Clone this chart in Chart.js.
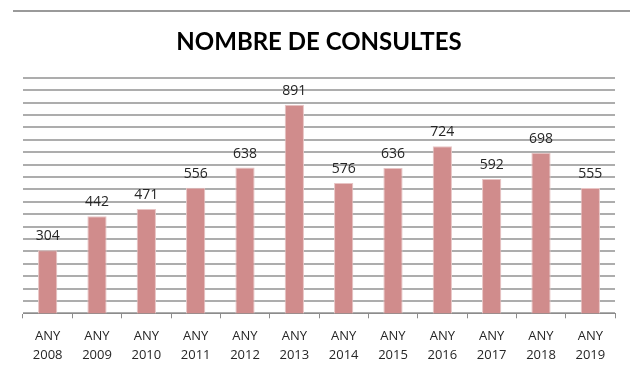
<!DOCTYPE html>
<html>
<head>
<meta charset="utf-8">
<script src="https://cdn.jsdelivr.net/npm/chart.js@4/dist/chart.umd.min.js"></script>
<style>
html,body{margin:0;padding:0;background:#fff;}
#wrap{position:relative;width:640px;height:384px;}
#frame{position:absolute;left:13px;top:10px;width:617px;height:0;border-top:2px solid #9a9a9a;}
canvas{position:absolute;left:0;top:0;}
</style>
</head>
<body>
<div id="wrap">
<div id="frame"></div>
<canvas id="c" width="640" height="384"></canvas>
</div>
<script>
const titleText = "NOMBRE DE CONSULTES";
const categories = [["ANY","2008"],["ANY","2009"],["ANY","2010"],["ANY","2011"],["ANY","2012"],["ANY","2013"],["ANY","2014"],["ANY","2015"],["ANY","2016"],["ANY","2017"],["ANY","2018"],["ANY","2019"]];
const consultes = [304, 442, 471, 556, 638, 891, 576, 636, 724, 592, 698, 555];
const yMin = 50, yMax = 1000, yStep = 50;

const valueLabels = {
  id: 'valueLabels',
  afterDatasetsDraw(chart) {
    const ctx = chart.ctx;
    const meta = chart.getDatasetMeta(0);
    ctx.save();
    ctx.font = '14px "Open Sans", sans-serif';
    ctx.fillStyle = '#262626';
    ctx.textAlign = 'center';
    ctx.textBaseline = 'bottom';
    meta.data.forEach((bar, i) => {
      ctx.fillText(String(consultes[i]), bar.x, bar.y - 7);
    });
    ctx.restore();
  }
};

new Chart(document.getElementById('c'), {
  type: 'bar',
  data: {
    labels: categories,
    datasets: [{
      data: consultes,
      backgroundColor: '#d08c8c',
      borderColor: '#e8c4c4',
      borderWidth: 1,
      barPercentage: 0.39,
      categoryPercentage: 1
    }]
  },
  options: {
    responsive: false,
    animation: false,
    layout: { padding: { left: 23, right: 25, top: 28, bottom: 10 } },
    plugins: {
      legend: { display: false },
      tooltip: { enabled: false },
      title: {
        display: true,
        text: titleText,
        color: '#000',
        font: { family: 'Lato, "Open Sans", sans-serif', size: 24, weight: 'bold' },
        padding: { top: 0, bottom: 21 }
      }
    },
    scales: {
      x: {
        grid: { display: true, drawOnChartArea: false, drawTicks: true, tickLength: 5, color: '#8c8c8c', offset: true },
        border: { display: true, color: '#8c8c8c', width: 1 },
        ticks: { color: '#262626', font: { family: '"Open Sans", sans-serif', size: 13, lineHeight: 1.45 }, maxRotation: 0, autoSkip: false, padding: 9 }
      },
      y: {
        min: yMin, max: yMax,
        ticks: { display: false, stepSize: yStep },
        grid: { color: '#adadad', lineWidth: 2, drawTicks: false },
        border: { display: false }
      }
    }
  },
  plugins: [valueLabels]
});
</script>
</body>
</html>
